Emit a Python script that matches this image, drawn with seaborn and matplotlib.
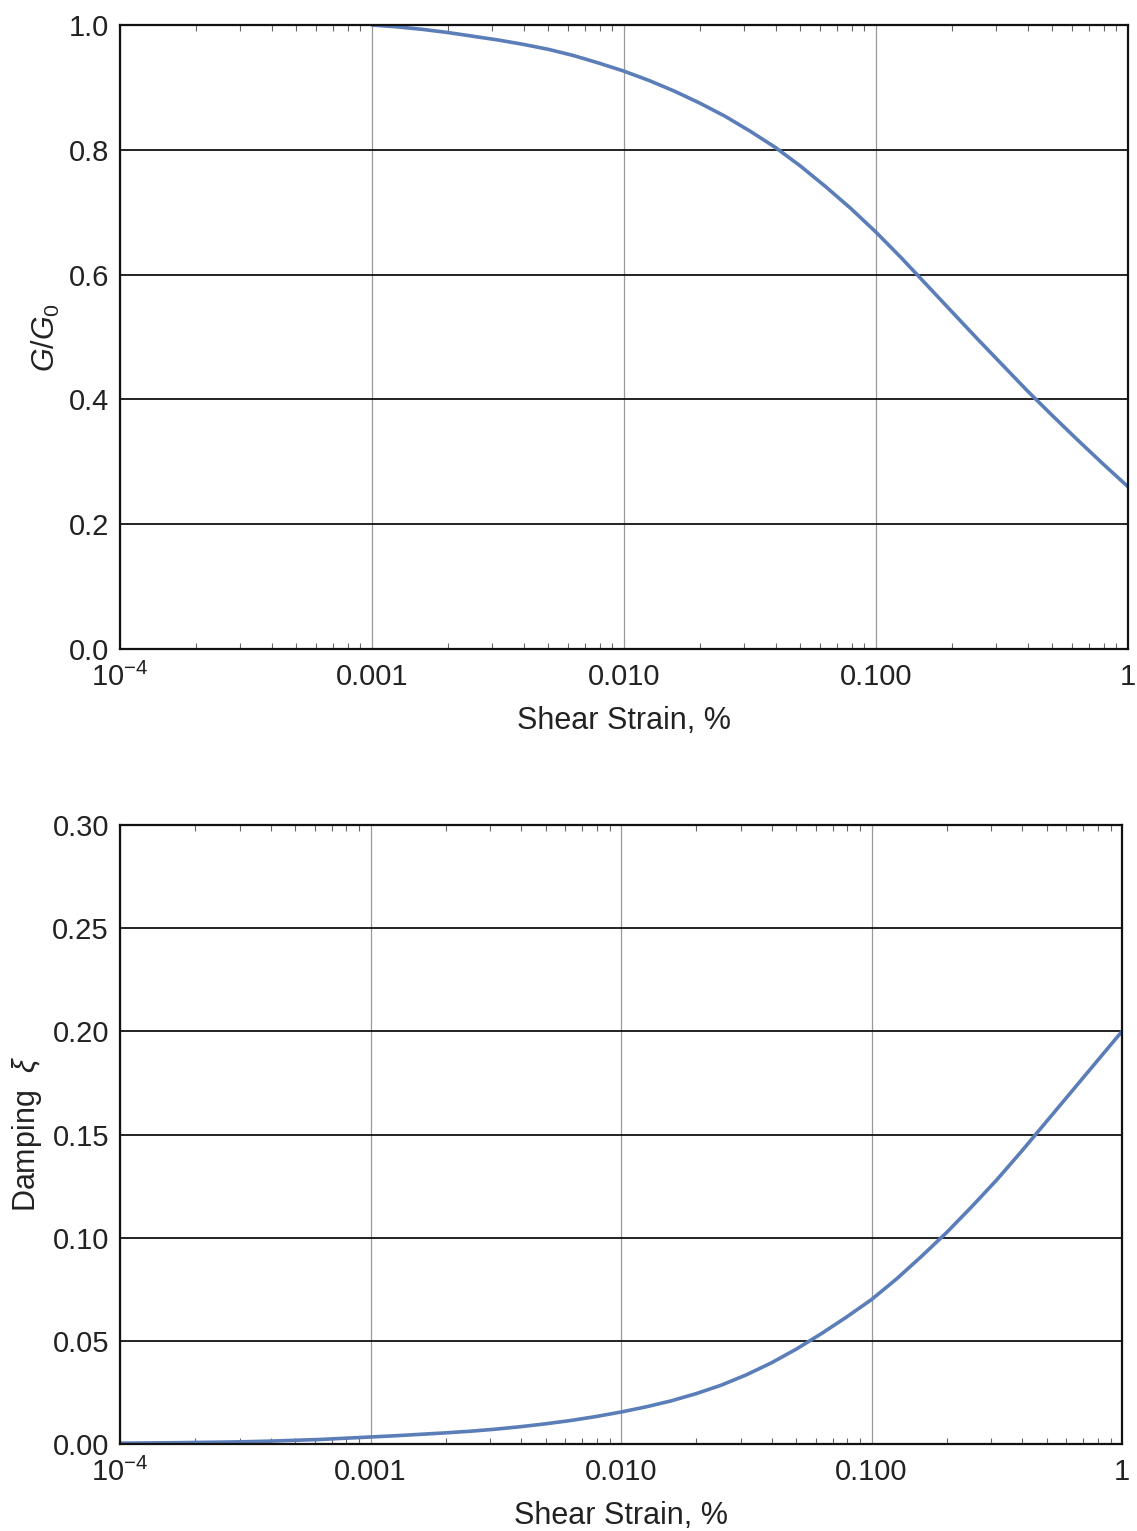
import numpy as np
import pandas as pd
import matplotlib
matplotlib.use("Agg")
import matplotlib.pyplot as plt
import matplotlib.ticker as mticker
import seaborn as sns

# ---- data ----
strain_g = [0.001, 0.001259, 0.001585, 0.001995, 0.002512, 0.003162, 0.003981,
            0.005012, 0.00631, 0.007943,
            0.01, 0.01259, 0.01585, 0.01995, 0.02512, 0.03162, 0.03981,
            0.05012, 0.0631, 0.07943,
            0.1, 0.1259, 0.1585, 0.1995, 0.2512, 0.3162, 0.3981,
            0.5012, 0.631, 0.7943, 1.0]
g_ratio = [1.000, 0.997, 0.993, 0.988, 0.982, 0.976, 0.969,
           0.961, 0.951, 0.939,
           0.926, 0.911, 0.894, 0.875, 0.854, 0.830, 0.804,
           0.774, 0.741, 0.706,
           0.668, 0.627, 0.584, 0.541, 0.498, 0.456, 0.414,
           0.374, 0.335, 0.297, 0.260]

strain_d = [0.0001, 0.0001259, 0.0001585, 0.0001995, 0.0002512, 0.0003162,
            0.0003981, 0.0005012, 0.000631, 0.0007943,
            0.001, 0.001259, 0.001585, 0.001995, 0.002512, 0.003162, 0.003981,
            0.005012, 0.00631, 0.007943,
            0.01, 0.01259, 0.01585, 0.01995, 0.02512, 0.03162, 0.03981,
            0.05012, 0.0631, 0.07943,
            0.1, 0.1259, 0.1585, 0.1995, 0.2512, 0.3162, 0.3981,
            0.5012, 0.631, 0.7943, 1.0]
damping = [0.0004, 0.0005, 0.0006, 0.00075, 0.0009, 0.0011,
           0.0014, 0.0018, 0.0022, 0.0028,
           0.0034, 0.0040, 0.0047, 0.0054, 0.0062, 0.0072, 0.0084,
           0.0098, 0.0114, 0.0133,
           0.0155, 0.018, 0.0209, 0.0244, 0.0285, 0.0335, 0.0393,
           0.046, 0.0535, 0.0615,
           0.0700, 0.080, 0.091, 0.1025, 0.115, 0.128, 0.142,
           0.1565, 0.171, 0.1855, 0.200]

xtick_vals = [1e-4, 1e-3, 1e-2, 1e-1, 1]
xtick_labels = [r"$10^{-4}$", "0.001", "0.010", "0.100", "1"]
top_yticks = [0.0, 0.2, 0.4, 0.6, 0.8, 1.0]
bot_yticks = [0.0, 0.05, 0.10, 0.15, 0.20, 0.25, 0.30]

line_color = "#5B7DB8"

sns.set_theme(style="white")
plt.rcParams["font.family"] = ["Liberation Sans", "DejaVu Sans"]
plt.rcParams["mathtext.fontset"] = "custom"
plt.rcParams["mathtext.rm"] = "Liberation Sans"
plt.rcParams["mathtext.it"] = "Liberation Sans:italic"

fig = plt.figure(figsize=(11.37, 15.31), dpi=100)
ax1 = fig.add_axes([120/1137, 1-649/1531, (1128-120)/1137, (649-25)/1531])
ax2 = fig.add_axes([120/1137, 1-1444/1531, (1122-120)/1137, (1444-825)/1531])

df_g = pd.DataFrame({"strain": strain_g, "g": g_ratio})
df_d = pd.DataFrame({"strain": strain_d, "d": damping})

sns.lineplot(data=df_g, x="strain", y="g", ax=ax1, color=line_color, lw=2.6, zorder=5)
sns.lineplot(data=df_d, x="strain", y="d", ax=ax2, color=line_color, lw=2.6, zorder=5)

def style(ax, yticks, ylim, yfmt):
    ax.set_xscale("log")
    ax.set_xlim(1e-4, 1)
    ax.set_ylim(*ylim)
    ax.set_xticks(xtick_vals)
    ax.set_xticklabels(xtick_labels)
    ax.xaxis.set_minor_locator(mticker.LogLocator(base=10, subs=np.arange(2, 10), numticks=20))
    ax.xaxis.set_minor_formatter(mticker.NullFormatter())
    ax.set_yticks(yticks)
    ax.yaxis.set_major_formatter(mticker.FormatStrFormatter(yfmt))
    ax.tick_params(axis="x", which="major", length=0, pad=10, labelsize=21, colors="#222222")
    ax.tick_params(axis="x", which="minor", direction="in", length=4, width=0.8,
                   top=True, bottom=True, color="#666666")
    ax.tick_params(axis="y", which="major", length=0, pad=8, labelsize=21, colors="#222222")
    for v in yticks:
        ax.axhline(v, color="#111111", lw=1.3, zorder=2)
    for v in xtick_vals:
        ax.axvline(v, color="#999999", lw=0.9, zorder=1)
    for s in ax.spines.values():
        s.set_color("#111111")
        s.set_linewidth(1.6)
        s.set_zorder(6)
    ax.set_xlabel("Shear Strain, %", fontsize=22, color="#222222", labelpad=10)

style(ax1, top_yticks, (0, 1.0), "%.1f")
style(ax2, bot_yticks, (0, 0.30), "%.2f")
ax1.set_ylabel(r"$G/G_0$", fontsize=22, color="#222222", labelpad=5)
ax2.set_ylabel(r"Damping  $\xi$", fontsize=22, color="#222222", labelpad=6)

fig.savefig("out.png", dpi=100, facecolor="white")
